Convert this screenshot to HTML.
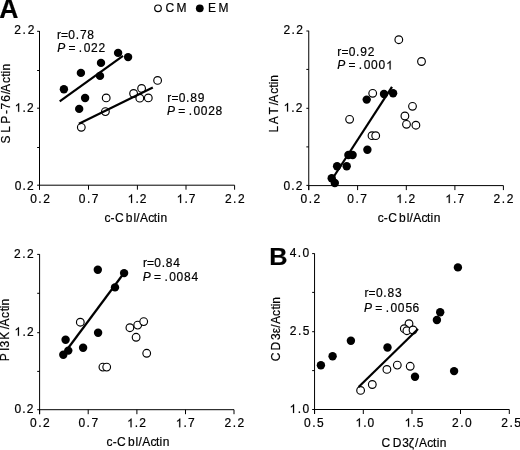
<!DOCTYPE html>
<html><head><meta charset='utf-8'><style>html,body{margin:0;padding:0;background:#fff;width:520px;height:450px;overflow:hidden} svg{display:block;filter:blur(0.35px)}</style></head>
<body>
<svg width='520' height='450' viewBox='0 0 520 450' font-family="'Liberation Sans', sans-serif">
<rect width='520' height='450' fill='#fff'/>
<g stroke='#000' fill='none'>
<line x1='39.5' y1='31.0' x2='39.5' y2='189.7' stroke-width='1.0'/>
<line x1='37.1' y1='31.3' x2='39.5' y2='31.3' stroke-width='1.0'/>
<line x1='37.1' y1='70.5' x2='39.5' y2='70.5' stroke-width='1.0'/>
<line x1='37.1' y1='108.2' x2='39.5' y2='108.2' stroke-width='1.0'/>
<line x1='37.1' y1='147.5' x2='39.5' y2='147.5' stroke-width='1.0'/>
<line x1='37.1' y1='185.2' x2='39.5' y2='185.2' stroke-width='1.0'/>
<line x1='39.5' y1='185.2' x2='234.6' y2='185.2' stroke-width='1.0'/>
<line x1='39.5' y1='185.2' x2='39.5' y2='189.7' stroke-width='1.0'/>
<line x1='88.5' y1='185.2' x2='88.5' y2='189.7' stroke-width='1.0'/>
<line x1='137.4' y1='185.2' x2='137.4' y2='189.7' stroke-width='1.0'/>
<line x1='186.0' y1='185.2' x2='186.0' y2='189.7' stroke-width='1.0'/>
<line x1='234.6' y1='185.2' x2='234.6' y2='189.7' stroke-width='1.0'/>
<line x1='308.75' y1='30.8' x2='308.75' y2='190.1' stroke-width='1.0'/>
<line x1='306.35' y1='31.0' x2='308.75' y2='31.0' stroke-width='1.0'/>
<line x1='306.35' y1='69.4' x2='308.75' y2='69.4' stroke-width='1.0'/>
<line x1='306.35' y1='108.3' x2='308.75' y2='108.3' stroke-width='1.0'/>
<line x1='306.35' y1='146.9' x2='308.75' y2='146.9' stroke-width='1.0'/>
<line x1='306.35' y1='185.4' x2='308.75' y2='185.4' stroke-width='1.0'/>
<line x1='308.75' y1='185.6' x2='503.4' y2='185.6' stroke-width='1.0'/>
<line x1='308.75' y1='185.6' x2='308.75' y2='190.1' stroke-width='1.0'/>
<line x1='357.6' y1='185.6' x2='357.6' y2='190.1' stroke-width='1.0'/>
<line x1='406.3' y1='185.6' x2='406.3' y2='190.1' stroke-width='1.0'/>
<line x1='454.9' y1='185.6' x2='454.9' y2='190.1' stroke-width='1.0'/>
<line x1='503.4' y1='185.6' x2='503.4' y2='190.1' stroke-width='1.0'/>
<line x1='39.6' y1='254.2' x2='39.6' y2='414.2' stroke-width='1.0'/>
<line x1='37.2' y1='254.4' x2='39.6' y2='254.4' stroke-width='1.0'/>
<line x1='37.2' y1='293.3' x2='39.6' y2='293.3' stroke-width='1.0'/>
<line x1='37.2' y1='332.7' x2='39.6' y2='332.7' stroke-width='1.0'/>
<line x1='37.2' y1='371.4' x2='39.6' y2='371.4' stroke-width='1.0'/>
<line x1='37.2' y1='409.7' x2='39.6' y2='409.7' stroke-width='1.0'/>
<line x1='39.6' y1='409.7' x2='234.0' y2='409.7' stroke-width='1.0'/>
<line x1='39.6' y1='409.7' x2='39.6' y2='414.2' stroke-width='1.0'/>
<line x1='88.2' y1='409.7' x2='88.2' y2='414.2' stroke-width='1.0'/>
<line x1='136.9' y1='409.7' x2='136.9' y2='414.2' stroke-width='1.0'/>
<line x1='185.5' y1='409.7' x2='185.5' y2='414.2' stroke-width='1.0'/>
<line x1='234.0' y1='409.7' x2='234.0' y2='414.2' stroke-width='1.0'/>
<line x1='314.55' y1='253.4' x2='314.55' y2='414.0' stroke-width='1.0'/>
<line x1='312.15000000000003' y1='253.6' x2='314.55' y2='253.6' stroke-width='1.0'/>
<line x1='312.15000000000003' y1='292.4' x2='314.55' y2='292.4' stroke-width='1.0'/>
<line x1='312.15000000000003' y1='331.7' x2='314.55' y2='331.7' stroke-width='1.0'/>
<line x1='312.15000000000003' y1='370.6' x2='314.55' y2='370.6' stroke-width='1.0'/>
<line x1='312.15000000000003' y1='409.5' x2='314.55' y2='409.5' stroke-width='1.0'/>
<line x1='314.55' y1='409.5' x2='509.3' y2='409.5' stroke-width='1.0'/>
<line x1='314.55' y1='409.5' x2='314.55' y2='414.0' stroke-width='1.0'/>
<line x1='363.3' y1='409.5' x2='363.3' y2='414.0' stroke-width='1.0'/>
<line x1='412.0' y1='409.5' x2='412.0' y2='414.0' stroke-width='1.0'/>
<line x1='460.5' y1='409.5' x2='460.5' y2='414.0' stroke-width='1.0'/>
<line x1='509.3' y1='409.5' x2='509.3' y2='414.0' stroke-width='1.0'/>
<circle cx='106.2' cy='97.9' r='3.85' fill='#fff' stroke-width='1.15'/>
<circle cx='105.4' cy='111.6' r='3.85' fill='#fff' stroke-width='1.15'/>
<circle cx='81.3' cy='127.3' r='3.85' fill='#fff' stroke-width='1.15'/>
<circle cx='133.6' cy='93.5' r='3.85' fill='#fff' stroke-width='1.15'/>
<circle cx='141.6' cy='88.4' r='3.85' fill='#fff' stroke-width='1.15'/>
<circle cx='139.8' cy='98.2' r='3.85' fill='#fff' stroke-width='1.15'/>
<circle cx='148.3' cy='97.9' r='3.85' fill='#fff' stroke-width='1.15'/>
<circle cx='157.6' cy='80.4' r='3.85' fill='#fff' stroke-width='1.15'/>
<circle cx='63.9' cy='89.3' r='4.2' fill='#000' stroke='none'/>
<circle cx='80.9' cy='72.9' r='4.2' fill='#000' stroke='none'/>
<circle cx='101.0' cy='62.9' r='4.2' fill='#000' stroke='none'/>
<circle cx='118.1' cy='52.9' r='4.2' fill='#000' stroke='none'/>
<circle cx='128.1' cy='57.1' r='4.2' fill='#000' stroke='none'/>
<circle cx='100.0' cy='75.9' r='4.2' fill='#000' stroke='none'/>
<circle cx='85.1' cy='98.0' r='4.2' fill='#000' stroke='none'/>
<circle cx='79.2' cy='108.9' r='4.2' fill='#000' stroke='none'/>
<line x1='59.7' y1='101.3' x2='123.0' y2='55.8' stroke-width='2.2'/>
<line x1='78.9' y1='123.8' x2='152.8' y2='87.4' stroke-width='2.2'/>
<circle cx='349.6' cy='119.3' r='3.85' fill='#fff' stroke-width='1.15'/>
<circle cx='372.7' cy='93.3' r='3.85' fill='#fff' stroke-width='1.15'/>
<circle cx='372.0' cy='135.7' r='3.85' fill='#fff' stroke-width='1.15'/>
<circle cx='375.7' cy='135.7' r='3.85' fill='#fff' stroke-width='1.15'/>
<circle cx='398.8' cy='39.7' r='3.85' fill='#fff' stroke-width='1.15'/>
<circle cx='421.5' cy='61.5' r='3.85' fill='#fff' stroke-width='1.15'/>
<circle cx='412.5' cy='106.3' r='3.85' fill='#fff' stroke-width='1.15'/>
<circle cx='404.9' cy='116.0' r='3.85' fill='#fff' stroke-width='1.15'/>
<circle cx='406.5' cy='124.3' r='3.85' fill='#fff' stroke-width='1.15'/>
<circle cx='415.9' cy='125.2' r='3.85' fill='#fff' stroke-width='1.15'/>
<circle cx='331.7' cy='178.3' r='4.2' fill='#000' stroke='none'/>
<circle cx='334.8' cy='183.0' r='4.2' fill='#000' stroke='none'/>
<circle cx='337.1' cy='166.2' r='4.2' fill='#000' stroke='none'/>
<circle cx='346.7' cy='166.3' r='4.2' fill='#000' stroke='none'/>
<circle cx='348.4' cy='155.0' r='4.2' fill='#000' stroke='none'/>
<circle cx='352.6' cy='155.0' r='4.2' fill='#000' stroke='none'/>
<circle cx='367.4' cy='149.8' r='4.2' fill='#000' stroke='none'/>
<circle cx='366.7' cy='99.6' r='4.2' fill='#000' stroke='none'/>
<circle cx='384.0' cy='94.0' r='4.2' fill='#000' stroke='none'/>
<circle cx='393.1' cy='93.3' r='4.2' fill='#000' stroke='none'/>
<line x1='333.2' y1='177.5' x2='392.0' y2='86.9' stroke-width='2.2'/>
<circle cx='80.3' cy='322.2' r='3.85' fill='#fff' stroke-width='1.15'/>
<circle cx='129.9' cy='327.7' r='3.85' fill='#fff' stroke-width='1.15'/>
<circle cx='137.7' cy='325.1' r='3.85' fill='#fff' stroke-width='1.15'/>
<circle cx='143.7' cy='321.6' r='3.85' fill='#fff' stroke-width='1.15'/>
<circle cx='136.1' cy='337.3' r='3.85' fill='#fff' stroke-width='1.15'/>
<circle cx='146.7' cy='353.3' r='3.85' fill='#fff' stroke-width='1.15'/>
<circle cx='102.9' cy='367.1' r='3.85' fill='#fff' stroke-width='1.15'/>
<circle cx='106.7' cy='367.1' r='3.85' fill='#fff' stroke-width='1.15'/>
<circle cx='97.8' cy='269.7' r='4.2' fill='#000' stroke='none'/>
<circle cx='124.1' cy='273.1' r='4.2' fill='#000' stroke='none'/>
<circle cx='115.0' cy='287.4' r='4.2' fill='#000' stroke='none'/>
<circle cx='98.1' cy='332.8' r='4.2' fill='#000' stroke='none'/>
<circle cx='65.6' cy='339.8' r='4.2' fill='#000' stroke='none'/>
<circle cx='83.1' cy='347.8' r='4.2' fill='#000' stroke='none'/>
<circle cx='68.3' cy='350.6' r='4.2' fill='#000' stroke='none'/>
<circle cx='63.3' cy='354.8' r='4.2' fill='#000' stroke='none'/>
<line x1='66.0' y1='351.0' x2='124.0' y2='273.0' stroke-width='2.2'/>
<circle cx='360.6' cy='390.4' r='3.85' fill='#fff' stroke-width='1.15'/>
<circle cx='372.3' cy='384.5' r='3.85' fill='#fff' stroke-width='1.15'/>
<circle cx='386.9' cy='369.4' r='3.85' fill='#fff' stroke-width='1.15'/>
<circle cx='397.3' cy='365.1' r='3.85' fill='#fff' stroke-width='1.15'/>
<circle cx='410.2' cy='366.3' r='3.85' fill='#fff' stroke-width='1.15'/>
<circle cx='409.0' cy='323.7' r='3.85' fill='#fff' stroke-width='1.15'/>
<circle cx='404.3' cy='328.7' r='3.85' fill='#fff' stroke-width='1.15'/>
<circle cx='406.9' cy='330.7' r='3.85' fill='#fff' stroke-width='1.15'/>
<circle cx='413.0' cy='330.0' r='3.85' fill='#fff' stroke-width='1.15'/>
<circle cx='320.9' cy='365.3' r='4.2' fill='#000' stroke='none'/>
<circle cx='332.6' cy='356.3' r='4.2' fill='#000' stroke='none'/>
<circle cx='350.9' cy='340.8' r='4.2' fill='#000' stroke='none'/>
<circle cx='387.5' cy='347.5' r='4.2' fill='#000' stroke='none'/>
<circle cx='415.0' cy='376.7' r='4.2' fill='#000' stroke='none'/>
<circle cx='457.9' cy='267.4' r='4.2' fill='#000' stroke='none'/>
<circle cx='440.2' cy='312.2' r='4.2' fill='#000' stroke='none'/>
<circle cx='436.9' cy='320.0' r='4.2' fill='#000' stroke='none'/>
<circle cx='454.1' cy='371.1' r='4.2' fill='#000' stroke='none'/>
<line x1='358.6' y1='387.0' x2='418.0' y2='329.0' stroke-width='2.2'/>
<circle cx='158.0' cy='8.3' r='3.3' fill='#fff' stroke-width='1.2'/>
<circle cx='199.8' cy='8.35' r='3.9' fill='#000' stroke='none'/>
</g>
<g fill='#000' stroke='#000' stroke-width='0.2'>
<text transform='translate(0,17.70) scale(1.020,1.04)' x='-0.65' y='0' font-size='26' font-weight='bold'>A</text>
<text transform='translate(0,264.90) scale(1.075,1.04)' x='250.44' y='0' font-size='23.5' font-weight='bold'>B</text>
<text transform='translate(0,12.30) scale(1.000,1.04)' y='0' font-size='12'><tspan x='165.44'>C</tspan><tspan x='176.60'>M</tspan></text>
<text transform='translate(0,12.30) scale(1.000,1.04)' y='0' font-size='12'><tspan x='208.01'>E</tspan><tspan x='218.60'>M</tspan></text>
<text transform='translate(0,33.70) scale(1.000,1.04)' y='0' font-size='12'><tspan x='14.30'>2</tspan><tspan x='22.63'>.</tspan><tspan x='27.63'>2</tspan></text>
<text transform='translate(0,111.80) scale(1.000,1.04)' y='0' font-size='12'><tspan x='14.70' fill-opacity='0' stroke-opacity='0'>1</tspan><tspan x='22.58'>.</tspan><tspan x='27.13'>2</tspan></text>
<text transform='translate(0,189.50) scale(1.000,1.04)' y='0' font-size='12'><tspan x='14.73'>0</tspan><tspan x='22.55'>.</tspan><tspan x='27.03'>2</tspan></text>
<text transform='translate(0,202.90) scale(1.000,1.04)' y='0' font-size='12'><tspan x='30.13'>0</tspan><tspan x='38.30'>.</tspan><tspan x='43.13'>2</tspan></text>
<text transform='translate(0,202.90) scale(1.000,1.04)' y='0' font-size='12'><tspan x='78.83'>0</tspan><tspan x='87.00'>.</tspan><tspan x='91.83'>7</tspan></text>
<text transform='translate(0,202.90) scale(1.000,1.04)' y='0' font-size='12'><tspan x='127.60' fill-opacity='0' stroke-opacity='0'>1</tspan><tspan x='135.38'>.</tspan><tspan x='139.83'>2</tspan></text>
<text transform='translate(0,202.90) scale(1.000,1.04)' y='0' font-size='12'><tspan x='176.65' fill-opacity='0' stroke-opacity='0'>1</tspan><tspan x='184.43'>.</tspan><tspan x='188.88'>7</tspan></text>
<text transform='translate(0,202.90) scale(1.000,1.04)' y='0' font-size='12'><tspan x='224.90'>2</tspan><tspan x='233.13'>.</tspan><tspan x='238.03'>2</tspan></text>
<text transform='translate(0,221.90) scale(1.000,1.04)' y='0' font-size='12'><tspan x='104.40'>c</tspan><tspan x='110.45'>-</tspan><tspan x='114.89'>C</tspan><tspan x='125.73'>b</tspan><tspan x='133.41'>l</tspan><tspan x='136.33'>/</tspan><tspan x='140.05'>A</tspan><tspan x='148.25'>c</tspan><tspan x='153.69'>t</tspan><tspan x='157.37'>i</tspan><tspan x='160.45'>n</tspan></text>
<text transform='translate(0,39.10) scale(1.000,1.04)' y='0' font-size='12'><tspan x='56.95'>r</tspan><tspan x='61.00'>=</tspan><tspan x='68.36'>0</tspan><tspan x='75.73'>.</tspan><tspan x='79.91'>7</tspan><tspan x='87.36'>8</tspan></text>
<text transform='translate(0,51.80) scale(1.000,1.04)' y='0' font-size='12'><tspan x='57.15' font-style='italic'>P</tspan><tspan x='68.40'>=</tspan><tspan x='78.83'>.</tspan><tspan x='83.66'>0</tspan><tspan x='90.91'>2</tspan><tspan x='98.46'>2</tspan></text>
<text transform='translate(0,101.90) scale(1.000,1.04)' y='0' font-size='12'><tspan x='167.35'>r</tspan><tspan x='171.40'>=</tspan><tspan x='178.76'>0</tspan><tspan x='186.13'>.</tspan><tspan x='190.31'>8</tspan><tspan x='197.77'>9</tspan></text>
<text transform='translate(0,115.20) scale(1.000,1.04)' y='0' font-size='12'><tspan x='167.05' font-style='italic'>P</tspan><tspan x='178.30'>=</tspan><tspan x='188.73'>.</tspan><tspan x='193.56'>0</tspan><tspan x='200.81'>0</tspan><tspan x='208.36'>2</tspan><tspan x='215.61'>8</tspan></text>
<text transform='translate(10.20,0) rotate(-90) scale(1.000,1.04)' y='0' font-size='12'><tspan x='-143.60'>S</tspan><tspan x='-132.73'>L</tspan><tspan x='-123.83'>P</tspan><tspan x='-113.90'>-</tspan><tspan x='-109.59'>7</tspan><tspan x='-101.83'>6</tspan><tspan x='-94.37'>/</tspan><tspan x='-92.00'>A</tspan><tspan x='-83.00'>c</tspan><tspan x='-76.71'>t</tspan><tspan x='-73.58'>i</tspan><tspan x='-70.55'>n</tspan></text>
<text transform='translate(0,33.80) scale(1.000,1.04)' y='0' font-size='12'><tspan x='283.40'>2</tspan><tspan x='291.43'>.</tspan><tspan x='296.13'>2</tspan></text>
<text transform='translate(0,111.50) scale(1.000,1.04)' y='0' font-size='12'><tspan x='283.60' fill-opacity='0' stroke-opacity='0'>1</tspan><tspan x='291.33'>.</tspan><tspan x='295.73'>2</tspan></text>
<text transform='translate(0,189.50) scale(1.000,1.04)' y='0' font-size='12'><tspan x='283.53'>0</tspan><tspan x='291.30'>.</tspan><tspan x='295.73'>2</tspan></text>
<text transform='translate(0,203.00) scale(1.000,1.04)' y='0' font-size='12'><tspan x='300.53'>0</tspan><tspan x='308.70'>.</tspan><tspan x='313.53'>2</tspan></text>
<text transform='translate(0,203.00) scale(1.000,1.04)' y='0' font-size='12'><tspan x='347.23'>0</tspan><tspan x='355.40'>.</tspan><tspan x='360.23'>7</tspan></text>
<text transform='translate(0,203.00) scale(1.000,1.04)' y='0' font-size='12'><tspan x='396.20' fill-opacity='0' stroke-opacity='0'>1</tspan><tspan x='403.98'>.</tspan><tspan x='408.43'>2</tspan></text>
<text transform='translate(0,203.00) scale(1.000,1.04)' y='0' font-size='12'><tspan x='445.30' fill-opacity='0' stroke-opacity='0'>1</tspan><tspan x='453.08'>.</tspan><tspan x='457.53'>7</tspan></text>
<text transform='translate(0,203.00) scale(1.000,1.04)' y='0' font-size='12'><tspan x='493.60'>2</tspan><tspan x='501.83'>.</tspan><tspan x='506.73'>2</tspan></text>
<text transform='translate(0,221.90) scale(1.000,1.04)' y='0' font-size='12'><tspan x='377.65'>c</tspan><tspan x='383.70'>-</tspan><tspan x='388.14'>C</tspan><tspan x='398.98'>b</tspan><tspan x='406.66'>l</tspan><tspan x='409.58'>/</tspan><tspan x='413.30'>A</tspan><tspan x='421.50'>c</tspan><tspan x='426.94'>t</tspan><tspan x='430.62'>i</tspan><tspan x='433.70'>n</tspan></text>
<text transform='translate(0,55.60) scale(1.000,1.04)' y='0' font-size='12'><tspan x='337.35'>r</tspan><tspan x='341.40'>=</tspan><tspan x='348.76'>0</tspan><tspan x='356.13'>.</tspan><tspan x='360.32'>9</tspan><tspan x='367.76'>2</tspan></text>
<text transform='translate(0,69.40) scale(1.000,1.04)' y='0' font-size='12'><tspan x='337.15' font-style='italic'>P</tspan><tspan x='348.40'>=</tspan><tspan x='358.83'>.</tspan><tspan x='363.66'>0</tspan><tspan x='370.91'>0</tspan><tspan x='378.46'>0</tspan><tspan x='386.16' fill-opacity='0' stroke-opacity='0'>1</tspan></text>
<text transform='translate(278.00,0) rotate(-90) scale(1.000,1.04)' y='0' font-size='12'><tspan x='-132.53'>L</tspan><tspan x='-124.35'>A</tspan><tspan x='-114.46'>T</tspan><tspan x='-105.32'>/</tspan><tspan x='-102.75'>A</tspan><tspan x='-93.85'>c</tspan><tspan x='-87.76'>t</tspan><tspan x='-84.33'>i</tspan><tspan x='-81.70'>n</tspan></text>
<text transform='translate(0,257.80) scale(1.000,1.04)' y='0' font-size='12'><tspan x='14.00'>2</tspan><tspan x='22.18'>.</tspan><tspan x='27.03'>2</tspan></text>
<text transform='translate(0,335.80) scale(1.000,1.04)' y='0' font-size='12'><tspan x='14.50' fill-opacity='0' stroke-opacity='0'>1</tspan><tspan x='22.43'>.</tspan><tspan x='27.03'>2</tspan></text>
<text transform='translate(0,413.40) scale(1.000,1.04)' y='0' font-size='12'><tspan x='14.43'>0</tspan><tspan x='22.25'>.</tspan><tspan x='26.73'>2</tspan></text>
<text transform='translate(0,427.20) scale(1.000,1.04)' y='0' font-size='12'><tspan x='30.03'>0</tspan><tspan x='38.20'>.</tspan><tspan x='43.03'>2</tspan></text>
<text transform='translate(0,427.20) scale(1.000,1.04)' y='0' font-size='12'><tspan x='78.43'>0</tspan><tspan x='86.60'>.</tspan><tspan x='91.43'>7</tspan></text>
<text transform='translate(0,427.20) scale(1.000,1.04)' y='0' font-size='12'><tspan x='127.10' fill-opacity='0' stroke-opacity='0'>1</tspan><tspan x='134.88'>.</tspan><tspan x='139.33'>2</tspan></text>
<text transform='translate(0,427.20) scale(1.000,1.04)' y='0' font-size='12'><tspan x='175.80' fill-opacity='0' stroke-opacity='0'>1</tspan><tspan x='183.58'>.</tspan><tspan x='188.03'>7</tspan></text>
<text transform='translate(0,427.20) scale(1.000,1.04)' y='0' font-size='12'><tspan x='224.40'>2</tspan><tspan x='232.63'>.</tspan><tspan x='237.53'>2</tspan></text>
<text transform='translate(0,446.40) scale(1.000,1.04)' y='0' font-size='12'><tspan x='106.60'>c</tspan><tspan x='112.65'>-</tspan><tspan x='117.09'>C</tspan><tspan x='127.93'>b</tspan><tspan x='135.61'>l</tspan><tspan x='138.53'>/</tspan><tspan x='142.25'>A</tspan><tspan x='150.45'>c</tspan><tspan x='155.89'>t</tspan><tspan x='159.57'>i</tspan><tspan x='162.65'>n</tspan></text>
<text transform='translate(0,267.10) scale(1.000,1.04)' y='0' font-size='12'><tspan x='142.90'>r</tspan><tspan x='146.95'>=</tspan><tspan x='154.31'>0</tspan><tspan x='161.68'>.</tspan><tspan x='165.86'>8</tspan><tspan x='173.35'>4</tspan></text>
<text transform='translate(0,281.30) scale(1.000,1.04)' y='0' font-size='12'><tspan x='142.80' font-style='italic'>P</tspan><tspan x='154.05'>=</tspan><tspan x='164.48'>.</tspan><tspan x='169.31'>0</tspan><tspan x='176.56'>0</tspan><tspan x='184.11'>8</tspan><tspan x='191.40'>4</tspan></text>
<text transform='translate(8.70,0) rotate(-90) scale(1.000,1.04)' y='0' font-size='12'><tspan x='-361.13'>P</tspan><tspan x='-351.07'>I</tspan><tspan x='-347.45'>3</tspan><tspan x='-339.78'>K</tspan><tspan x='-329.17'>/</tspan><tspan x='-326.60'>A</tspan><tspan x='-317.90'>c</tspan><tspan x='-311.31'>t</tspan><tspan x='-308.33'>i</tspan><tspan x='-305.55'>n</tspan></text>
<text transform='translate(0,256.60) scale(1.000,1.04)' y='0' font-size='12'><tspan x='289.72'>4</tspan><tspan x='297.83'>.</tspan><tspan x='302.59'>0</tspan></text>
<text transform='translate(0,335.00) scale(1.000,1.04)' y='0' font-size='12'><tspan x='289.70'>2</tspan><tspan x='297.93'>.</tspan><tspan x='302.83'>5</tspan></text>
<text transform='translate(0,412.90) scale(1.000,1.04)' y='0' font-size='12'><tspan x='289.60' fill-opacity='0' stroke-opacity='0'>1</tspan><tspan x='297.77'>.</tspan><tspan x='302.59'>0</tspan></text>
<text transform='translate(0,426.80) scale(1.000,1.04)' y='0' font-size='12'><tspan x='304.08'>0</tspan><tspan x='312.20'>.</tspan><tspan x='316.98'>5</tspan></text>
<text transform='translate(0,426.80) scale(1.000,1.04)' y='0' font-size='12'><tspan x='355.45' fill-opacity='0' stroke-opacity='0'>1</tspan><tspan x='363.17'>.</tspan><tspan x='367.54'>0</tspan></text>
<text transform='translate(0,426.80) scale(1.000,1.04)' y='0' font-size='12'><tspan x='404.60' fill-opacity='0' stroke-opacity='0'>1</tspan><tspan x='412.33'>.</tspan><tspan x='416.73'>5</tspan></text>
<text transform='translate(0,426.80) scale(1.000,1.04)' y='0' font-size='12'><tspan x='452.10'>2</tspan><tspan x='460.27'>.</tspan><tspan x='465.09'>0</tspan></text>
<text transform='translate(0,426.80) scale(1.000,1.04)' y='0' font-size='12'><tspan x='501.30'>2</tspan><tspan x='509.48'>.</tspan><tspan x='514.33'>5</tspan></text>
<text transform='translate(0,446.80) scale(1.000,1.04)' y='0' font-size='12'><tspan x='381.54'>C</tspan><tspan x='392.66'>D</tspan><tspan x='402.20'>3</tspan><tspan x='408.77'>ζ</tspan><tspan x='414.93'>/</tspan><tspan x='418.95'>A</tspan><tspan x='427.25'>c</tspan><tspan x='433.09'>t</tspan><tspan x='436.87'>i</tspan><tspan x='439.70'>n</tspan></text>
<text transform='translate(0,296.90) scale(1.000,1.04)' y='0' font-size='12'><tspan x='364.55'>r</tspan><tspan x='368.60'>=</tspan><tspan x='375.96'>0</tspan><tspan x='383.33'>.</tspan><tspan x='387.51'>8</tspan><tspan x='395.00'>3</tspan></text>
<text transform='translate(0,311.50) scale(1.000,1.04)' y='0' font-size='12'><tspan x='364.10' font-style='italic'>P</tspan><tspan x='375.35'>=</tspan><tspan x='385.78'>.</tspan><tspan x='390.61'>0</tspan><tspan x='397.86'>0</tspan><tspan x='405.42'>5</tspan><tspan x='412.62'>6</tspan></text>
<text transform='translate(280.20,0) rotate(-90) scale(1.000,1.04)' y='0' font-size='12'><tspan x='-361.26'>C</tspan><tspan x='-350.44'>D</tspan><tspan x='-340.00'>3</tspan><tspan x='-333.32'>ε</tspan><tspan x='-327.72'>/</tspan><tspan x='-324.10'>A</tspan><tspan x='-315.90'>c</tspan><tspan x='-309.41'>t</tspan><tspan x='-306.18'>i</tspan><tspan x='-303.70'>n</tspan></text>
</g>
<g fill='#000' stroke='#000' stroke-width='34.1'>
<path transform='translate(14.70,111.80) scale(0.005859,-0.005859)' d='M763 0L583 0L583 1147Q518 1085 412 1023Q306 961 222 930L222 1104Q373 1175 486 1276Q599 1377 646 1466L763 1466Z'/>
<path transform='translate(127.60,202.90) scale(0.005859,-0.005859)' d='M763 0L583 0L583 1147Q518 1085 412 1023Q306 961 222 930L222 1104Q373 1175 486 1276Q599 1377 646 1466L763 1466Z'/>
<path transform='translate(176.65,202.90) scale(0.005859,-0.005859)' d='M763 0L583 0L583 1147Q518 1085 412 1023Q306 961 222 930L222 1104Q373 1175 486 1276Q599 1377 646 1466L763 1466Z'/>
<path transform='translate(283.60,111.50) scale(0.005859,-0.005859)' d='M763 0L583 0L583 1147Q518 1085 412 1023Q306 961 222 930L222 1104Q373 1175 486 1276Q599 1377 646 1466L763 1466Z'/>
<path transform='translate(396.20,203.00) scale(0.005859,-0.005859)' d='M763 0L583 0L583 1147Q518 1085 412 1023Q306 961 222 930L222 1104Q373 1175 486 1276Q599 1377 646 1466L763 1466Z'/>
<path transform='translate(445.30,203.00) scale(0.005859,-0.005859)' d='M763 0L583 0L583 1147Q518 1085 412 1023Q306 961 222 930L222 1104Q373 1175 486 1276Q599 1377 646 1466L763 1466Z'/>
<path transform='translate(386.16,69.40) scale(0.005859,-0.005859)' d='M763 0L583 0L583 1147Q518 1085 412 1023Q306 961 222 930L222 1104Q373 1175 486 1276Q599 1377 646 1466L763 1466Z'/>
<path transform='translate(14.50,335.80) scale(0.005859,-0.005859)' d='M763 0L583 0L583 1147Q518 1085 412 1023Q306 961 222 930L222 1104Q373 1175 486 1276Q599 1377 646 1466L763 1466Z'/>
<path transform='translate(127.10,427.20) scale(0.005859,-0.005859)' d='M763 0L583 0L583 1147Q518 1085 412 1023Q306 961 222 930L222 1104Q373 1175 486 1276Q599 1377 646 1466L763 1466Z'/>
<path transform='translate(175.80,427.20) scale(0.005859,-0.005859)' d='M763 0L583 0L583 1147Q518 1085 412 1023Q306 961 222 930L222 1104Q373 1175 486 1276Q599 1377 646 1466L763 1466Z'/>
<path transform='translate(289.60,412.90) scale(0.005859,-0.005859)' d='M763 0L583 0L583 1147Q518 1085 412 1023Q306 961 222 930L222 1104Q373 1175 486 1276Q599 1377 646 1466L763 1466Z'/>
<path transform='translate(355.45,426.80) scale(0.005859,-0.005859)' d='M763 0L583 0L583 1147Q518 1085 412 1023Q306 961 222 930L222 1104Q373 1175 486 1276Q599 1377 646 1466L763 1466Z'/>
<path transform='translate(404.60,426.80) scale(0.005859,-0.005859)' d='M763 0L583 0L583 1147Q518 1085 412 1023Q306 961 222 930L222 1104Q373 1175 486 1276Q599 1377 646 1466L763 1466Z'/>
</g>
</svg>
</body></html>
